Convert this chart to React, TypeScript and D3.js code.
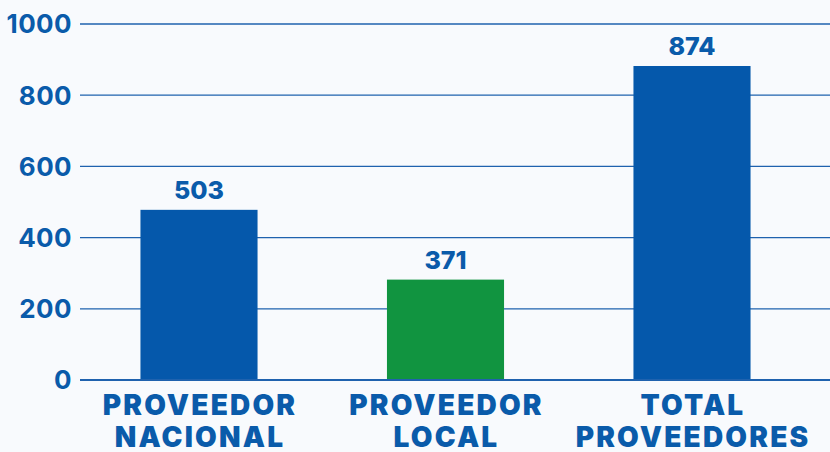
import React from "react";
import * as d3 from "d3";

const categories = ["PROVEEDOR NACIONAL", "PROVEEDOR LOCAL", "TOTAL PROVEEDORES"];
const categoryLines = [["PROVEEDOR", "NACIONAL"], ["PROVEEDOR", "LOCAL"], ["TOTAL", "PROVEEDORES"]];
// bar heights as drawn in the picture (value axis units)
const barValues = [478, 282, 882];
const valueLabels = ["503", "371", "874"];
const barColors = ["#0558AB", "#119440", "#0558AB"];
const yTicks = [0, 200, 400, 600, 800, 1000];

const W = 830;
const H = 452;
const BLUE = "#0A5BAA";
const FONT = "Inter, 'Open Sans', sans-serif";

export default function App() {
  const x = d3
    .scaleBand<string>()
    .domain(categories)
    .range([75.75, 815.25])
    .paddingInner(0.525)
    .paddingOuter(0.2625);
  const y = d3.scaleLinear().domain([0, 1000]).range([380, 24]);

  return (
    <svg
      width={W}
      height={H}
      style={{ position: "absolute", left: 0, top: 0, display: "block" }}
    >
      <rect x={0} y={0} width={W} height={H} fill="#F8FAFD" />
      {yTicks.map((t) => (
        <g key={t}>
          {t !== 0 && (
            <line x1={80} x2={W} y1={y(t)} y2={y(t)} stroke="#1F62AE" strokeWidth={1.3} />
          )}
          <text
            x={72}
            y={y(t)}
            dy="0.36em"
            textAnchor="end"
            fill={BLUE}
            fontFamily={FONT}
            fontWeight={700}
            fontSize={26}
            letterSpacing={0.4}
          >
            {t}
          </text>
        </g>
      ))}
      {categories.map((c, i) => (
        <rect
          key={c}
          x={x(c)}
          y={y(barValues[i])}
          width={x.bandwidth()}
          height={y(0) - y(barValues[i])}
          fill={barColors[i]}
        />
      ))}
      <line x1={80} x2={W} y1={y(0)} y2={y(0)} stroke="#1F62AE" strokeWidth={2.2} />
      {categories.map((c, i) => (
        <text
          key={c + "v"}
          x={(x(c) as number) + x.bandwidth() / 2}
          y={y(barValues[i]) - 11}
          textAnchor="middle"
          fill={BLUE}
          fontFamily={FONT}
          fontWeight={800}
          fontSize={25}
        >
          {valueLabels[i]}
        </text>
      ))}
      {categories.map((c, i) => (
        <text
          key={c + "c"}
          textAnchor="middle"
          fill={BLUE}
          fontFamily={FONT}
          fontWeight={900}
          fontSize={28}
          letterSpacing={2.2}
        >
          {categoryLines[i].map((ln, j) => (
            <tspan key={j} x={(x(c) as number) + x.bandwidth() / 2 + 1} y={415 + j * 32}>
              {ln}
            </tspan>
          ))}
        </text>
      ))}
    </svg>
  );
}
